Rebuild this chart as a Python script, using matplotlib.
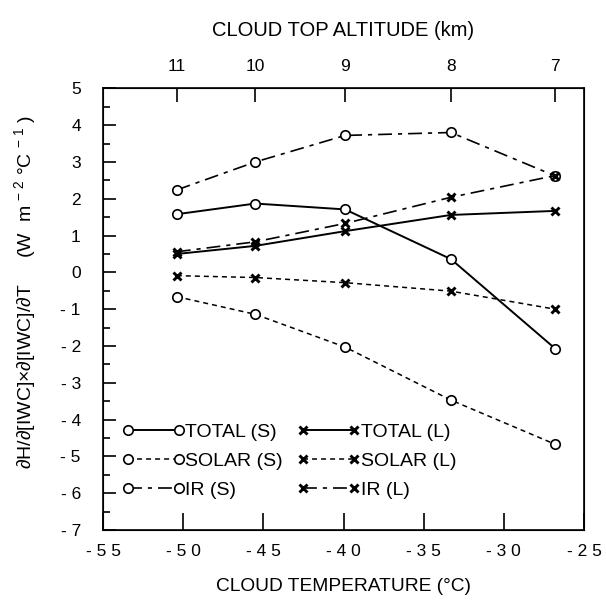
import matplotlib
matplotlib.use("Agg")
import matplotlib.pyplot as plt
from matplotlib.ticker import MultipleLocator

plt.rcParams['font.family'] = ['Liberation Sans', 'DejaVu Sans']
plt.rcParams['mathtext.fontset'] = 'custom'
plt.rcParams['mathtext.rm'] = 'Liberation Sans'
plt.rcParams['mathtext.it'] = 'Liberation Sans'
plt.rcParams['lines.scale_dashes'] = False

# Cloud temperature (deg C) at each cloud-top altitude
cloud_temp = [-50.4, -45.5, -39.9, -33.3, -26.8]
altitude_km = ["11", "10", "9", "8", "7"]

# Sensitivities (W m-2 C-1), S = small crystals, L = large crystals
total_s = [1.58, 1.87, 1.71, 0.36, -2.07]
solar_s = [-0.66, -1.14, -2.03, -3.47, -4.67]
ir_s = [2.24, 3.00, 3.72, 3.80, 2.62]
total_l = [0.50, 0.72, 1.12, 1.56, 1.67]
solar_l = [-0.09, -0.14, -0.28, -0.51, -1.00]
ir_l = [0.56, 0.83, 1.33, 2.04, 2.63]

x_ticks = [-55, -50, -45, -40, -35, -30, -25]
x_ticklabels = ["- 5 5", "- 5 0", "- 4 5", "- 4 0", "- 3 5", "- 3 0", "- 2 5"]
y_ticks = list(range(-7, 6))
y_ticklabels = [str(v) if v >= 0 else "- " + str(-v) for v in y_ticks]

fig = plt.figure(figsize=(6.06, 6.10), dpi=100)
ax = fig.add_axes([0.170, 0.1311, 0.7937, 0.7241])

solid = '-'
short_dash = (0, (3.6, 2.9))
dash_dot = (0, (10, 4.3, 3, 4.3))

circ = dict(marker='o', ms=6.8, mfc='white', mec='black', mew=1.2)
cross = dict(marker='x', ms=6.2, mec='black', mew=2.1)

series = [
    (total_s, solid, circ, 1.4, "TOTAL (S)"),
    (solar_s, short_dash, circ, 1.1, "SOLAR (S)"),
    (ir_s, dash_dot, circ, 1.2, "IR (S)"),
    (total_l, solid, cross, 1.4, "TOTAL (L)"),
    (solar_l, short_dash, cross, 1.1, "SOLAR (L)"),
    (ir_l, dash_dot, cross, 1.2, "IR (L)"),
]
handles = []
for vals, ls, mk, lw, lab in series:
    h, = ax.plot(cloud_temp, vals, color='black', linestyle=ls, lw=lw, label=lab, **mk)
    handles.append(h)

ax.set_xlim(-55, -25)
ax.set_ylim(-7, 5)
ax.set_xticks(x_ticks)
ax.set_xticklabels(x_ticklabels)
ax.set_yticks(y_ticks)
ax.set_yticklabels(y_ticklabels)
ax.yaxis.set_minor_locator(MultipleLocator(0.5))
ax.tick_params(axis='x', direction='in', length=12, width=1.2, labelsize=12.5, pad=10)
ax.tick_params(axis='y', which='major', direction='in', length=9, width=1.2, labelsize=12.5, pad=16)
ax.tick_params(axis='y', which='minor', direction='in', length=5, width=1.2)
for s in ax.spines.values():
    s.set_linewidth(1.2)

top = ax.twiny()
top.set_xlim(ax.get_xlim())
top.set_xticks(cloud_temp)
top.set_xticklabels(altitude_km)
top.tick_params(axis='x', direction='in', length=10, width=1.2, labelsize=12.5, pad=10)
top.set_xlabel("CLOUD TOP ALTITUDE (km)", fontsize=14.5, labelpad=17)

ax.set_xlabel("CLOUD TEMPERATURE (\u00b0C)", fontsize=13.8, labelpad=14)
ax.set_ylabel("\u2202H/\u2202[IWC]\u00d7\u2202[IWC]/\u2202T     (W  m $^{-\\ 2}$ \u00b0C $^{-\\ 1}$ )",
              fontsize=14, labelpad=14)
ax.yaxis.set_label_coords(-0.135, 0.54)

ax.legend(handles, [s[4] for s in series],
          ncol=2, numpoints=2, frameon=False, fontsize=14,
          loc='lower left', bbox_to_anchor=(0.040, 0.071),
          handlelength=3.2, handletextpad=0.05, columnspacing=0.75,
          labelspacing=0.58, borderpad=0, borderaxespad=0)

fig.savefig("out.png", dpi=100)
